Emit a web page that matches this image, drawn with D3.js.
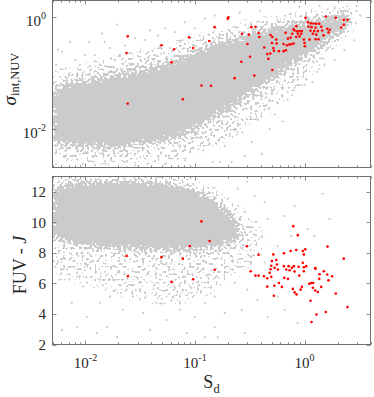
<!DOCTYPE html>
<html>
<head>
<meta charset="utf-8">
<script src="https://cdn.jsdelivr.net/npm/d3@7"></script>
<style>
body { margin: 0; background: #fff; }
text { font-family: "Liberation Serif", "Times New Roman", serif; fill: #262626; }
</style>
</head>
<body>
<div id="chart"></div>
<script>
// ---- data ----
// x samples for the dense part of the grey cloud
var bandX = [0.005, 0.007, 0.01, 0.015, 0.02, 0.03, 0.05, 0.07, 0.1, 0.15, 0.2, 0.3, 0.5, 0.7, 1, 1.5, 2, 2.5];
// top panel: solid core of the cloud (upper / lower sigma)
var topCoreHi = [0.046, 0.061, 0.069, 0.078, 0.089, 0.104, 0.133, 0.163, 0.218, 0.302, 0.355, 0.454, 0.605, 0.684, 0.773, 0.91, 1.03, 1.12];
var topCoreLo = [0.0059, 0.0055, 0.0051, 0.0049, 0.0051, 0.0057, 0.0065, 0.0076, 0.0106, 0.018, 0.024, 0.041, 0.082, 0.139, 0.209, 0.355, 0.535, 0.742];
// top panel: looser halo round the core
var topHaloX = [0.005, 0.007, 0.01, 0.015, 0.02, 0.03, 0.05, 0.07, 0.1, 0.15, 0.2, 0.3, 0.5, 0.7, 1, 1.5, 2, 2.5, 3];
var topHaloHi = [0.104, 0.123, 0.145, 0.17, 0.2, 0.236, 0.302, 0.355, 0.454, 0.58, 0.684, 0.805, 0.988, 1.12, 1.21, 1.37, 1.49, 1.61, 1.61];
var topHaloLo = [0.0029, 0.0026, 0.0024, 0.0023, 0.0023, 0.0024, 0.0026, 0.0029, 0.0035, 0.0047, 0.0065, 0.0106, 0.022, 0.036, 0.075, 0.17, 0.314, 0.535, 0.874];

// bottom panel: solid core
var botCoreX = [0.005, 0.007, 0.01, 0.015, 0.02, 0.03, 0.05, 0.07, 0.1, 0.15, 0.2, 0.25];
var botCoreHi = [12.2, 12.46, 12.6, 12.66, 12.66, 12.66, 12.53, 12.33, 12.0, 11.34, 10.55, 9.88];
var botCoreLo = [9.03, 8.76, 8.56, 8.43, 8.37, 8.30, 8.23, 8.23, 8.23, 8.43, 8.70, 9.03];
// bottom panel: halo
var botHaloX = [0.005, 0.007, 0.01, 0.015, 0.02, 0.03, 0.05, 0.07, 0.1, 0.15, 0.2, 0.3, 0.4];
var botHaloHi = [12.9, 12.95, 12.95, 12.95, 12.95, 12.95, 12.9, 12.86, 12.66, 12.2, 11.54, 10.55, 9.69];
var botHaloLo = [6.58, 6.25, 5.92, 5.59, 5.26, 4.93, 4.6, 4.6, 4.93, 5.59, 6.25, 6.91, 7.44];

// scattered grey points outside the dense cloud [Sd, sigma]
var topGrey = [
  [0.0056, 0.26], [0.0061, 0.24], [0.0072, 0.36], [0.0081, 0.17], [0.0108, 0.36], [0.0122, 0.21],
  [0.0141, 0.51], [0.0167, 0.28], [0.0194, 0.74], [0.0229, 0.31], [0.0284, 0.42], [0.035, 0.39],
  [0.039, 0.58], [0.0458, 0.47], [0.0535, 0.63], [0.0655, 0.54], [0.081, 0.81], [0.0994, 0.63],
  [0.123, 0.95], [0.151, 1.07], [0.256, 1.21], [0.389, 1.31], [0.9, 1.55], [1.37, 1.61],
  [2.98, 1.61], [3.24, 1.07], [2.47, 1.31], [1.88, 1.43],
  [0.0054, 0.14], [0.0066, 0.12], [0.0089, 0.14], [0.0099, 0.21], [0.0136, 0.14], [0.015, 0.36],
  [0.0186, 0.17], [0.0206, 0.21], [0.0255, 0.14], [0.0315, 0.24], [0.0431, 0.21], [0.048, 0.31],
  [0.059, 0.28], [0.0727, 0.36], [0.0894, 0.42], [0.11, 0.47],
  [0.0054, 0.0023], [0.0058, 0.0043], [0.0066, 0.0032], [0.0084, 0.0028], [0.0099, 0.0038],
  [0.0122, 0.0022], [0.015, 0.0026], [0.0186, 0.0032], [0.0229, 0.0025], [0.0284, 0.0022],
  [0.035, 0.0029], [0.0431, 0.0026], [0.0535, 0.0023], [0.0655, 0.0032], [0.081, 0.0027], [0.0894, 0.0038],
  [0.093, 0.0065], [0.106, 0.008], [0.136, 0.0053], [0.145, 0.0025], [0.168, 0.0025], [0.216, 0.0025],
  [0.284, 0.0032], [0.329, 0.0057], [0.2075, 0.0073], [0.245, 0.0086], [0.187, 0.0049], [0.406, 0.0035],
  [0.48, 0.0098], [0.63, 0.0134], [0.373, 0.0146], [0.432, 0.022], [0.70, 0.033], [0.533, 0.018],
  [0.811, 0.054], [1.0, 0.061], [1.18, 0.069], [1.31, 0.104], [1.52, 0.139], [1.88, 0.17],
  [2.31, 0.256], [2.85, 0.385]
];
// [Sd, FUV - J]
var botGrey = [
  [0.0056, 7.44], [0.0068, 6.91], [0.0058, 6.25], [0.0075, 4.73], [0.0061, 2.94], [0.0084, 3.14],
  [0.0103, 3.80], [0.0127, 2.75], [0.0157, 3.14], [0.0194, 2.48], [0.0136, 4.73], [0.0167, 5.13],
  [0.0219, 4.27], [0.0271, 5.13], [0.0335, 4.07], [0.039, 2.94], [0.0446, 4.73], [0.055, 3.60],
  [0.063, 5.13], [0.0727, 4.27], [0.084, 2.75], [0.0315, 6.05], [0.0238, 5.59], [0.0178, 6.25],
  [0.0136, 6.25], [0.0095, 5.79], [0.0084, 6.45], [0.0103, 7.11], [0.048, 6.25], [0.063, 6.05],
  [0.0775, 6.45],
  [0.161, 10.87], [0.199, 11.54], [0.245, 12.2], [0.30, 12.66], [0.35, 11.74], [0.432, 11.34],
  [0.284, 10.68], [0.46, 10.22], [0.657, 10.41], [0.811, 11.07], [1.46, 11.87], [1.69, 10.22],
  [1.065, 9.56], [1.23, 9.09], [0.76, 9.09], [0.406, 9.09], [0.567, 8.43], [0.329, 7.77],
  [0.432, 7.37], [0.245, 7.37], [0.199, 8.03], [0.187, 6.71], [0.23, 6.05], [0.30, 5.59],
  [0.373, 4.93], [0.267, 4.27], [0.187, 4.07], [0.151, 3.14], [0.123, 2.48], [0.161, 2.48],
  [0.284, 2.75], [0.46, 3.80], [0.657, 4.27], [0.864, 3.41], [0.567, 5.13], [0.123, 4.73],
  [0.106, 5.59], [0.0994, 3.80], [0.151, 5.13], [0.131, 6.45], [0.175, 8.23]
];

// red sample [Sd, sigma_int,NUV]
var topRed = [
  [0.0243, 0.454], [0.0237, 0.227], [0.0243, 0.0281], [0.0494, 0.314], [0.0644, 0.267], [0.061, 0.155],
  [0.0774, 0.0336], [0.0883, 0.436], [0.202, 1.0], [0.199, 0.937], [0.151, 0.664], [0.096, 0.281],
  [0.135, 0.375], [0.1145, 0.0595], [0.140, 0.0588], [0.230, 0.0805], [0.265, 0.159], [0.318, 0.195],
  [0.348, 0.0896], [0.508, 0.113], [0.301, 0.331], [0.268, 0.507], [0.311, 0.487], [0.327, 0.664],
  [0.356, 0.675], [0.381, 0.520], [0.387, 0.441], [0.429, 0.286], [0.457, 0.218], [0.467, 0.179],
  [0.487, 0.224], [0.490, 0.479], [0.508, 0.441], [0.504, 0.345], [0.519, 0.281], [0.552, 0.397],
  [0.556, 0.337], [0.525, 0.249], [0.583, 0.246], [0.644, 0.246], [0.676, 0.256], [0.644, 0.331],
  [0.690, 0.314], [0.726, 0.324], [0.757, 0.327], [0.794, 0.337], [0.705, 0.413], [0.671, 0.528],
  [0.773, 0.507], [0.794, 0.612], [0.840, 0.692], [0.811, 0.580], [0.858, 0.557], [0.900, 0.564],
  [0.945, 0.564], [0.869, 0.507], [0.933, 0.507], [0.746, 0.431], [0.840, 0.441], [0.900, 0.454],
  [0.985, 0.397], [1.0, 0.345], [1.006, 0.302], [1.021, 0.976], [1.072, 0.815], [1.141, 0.782],
  [1.208, 0.773], [1.278, 0.764], [1.361, 0.764], [1.087, 0.684], [1.158, 0.664], [1.260, 0.648],
  [1.420, 0.675], [1.134, 0.573], [1.226, 0.564], [1.322, 0.564], [1.449, 0.580], [1.190, 0.507],
  [1.278, 0.487], [1.111, 0.397], [1.260, 0.402], [1.341, 0.402], [1.563, 1.029], [1.928, 0.976],
  [1.610, 0.622], [1.700, 0.597], [1.654, 0.535], [1.490, 0.473], [2.160, 0.656], [2.280, 0.733],
  [2.465, 0.899], [2.280, 0.899]
];
// red sample [Sd, FUV - J]
var botRed = [
  [0.0237, 7.79], [0.0244, 6.47], [0.0494, 7.72], [0.061, 6.10], [0.0774, 7.62], [0.0896, 8.45],
  [0.1145, 10.06], [0.136, 8.78], [0.151, 6.89], [0.0962, 6.27], [0.298, 8.43], [0.381, 7.88],
  [0.322, 6.80], [0.356, 6.51], [0.381, 6.51], [0.426, 6.47], [0.457, 6.34], [0.457, 5.79],
  [0.480, 6.69], [0.519, 7.90], [0.504, 7.46], [0.497, 7.16], [0.490, 6.93], [0.552, 7.53],
  [0.560, 7.24], [0.533, 7.02], [0.571, 6.91], [0.497, 6.43], [0.530, 5.85], [0.525, 5.19],
  [0.583, 6.03], [0.621, 5.77], [0.653, 6.36], [0.648, 7.97], [0.648, 7.13], [0.681, 6.91],
  [0.715, 7.13], [0.746, 8.12], [0.730, 6.86], [0.705, 6.30], [0.766, 7.02], [0.789, 9.75],
  [0.799, 7.13], [0.811, 6.78], [0.840, 8.19], [0.869, 9.16], [0.895, 6.51], [0.882, 7.09],
  [0.782, 5.64], [0.811, 5.41], [0.846, 5.28], [0.920, 5.59], [0.945, 5.77], [0.965, 8.12],
  [0.985, 7.90], [1.015, 8.23], [0.965, 7.35], [0.985, 7.06], [1.036, 7.13], [0.985, 6.80],
  [1.104, 5.97], [1.151, 6.03], [1.200, 6.03], [1.190, 5.72], [1.252, 7.00], [1.252, 5.54],
  [1.134, 4.86], [1.322, 5.44], [1.420, 5.77], [1.370, 6.60], [1.361, 6.30], [1.499, 6.80],
  [1.610, 6.58], [1.654, 6.20], [1.788, 6.47], [1.621, 8.41], [2.280, 7.62], [1.928, 5.34],
  [1.563, 4.13], [1.286, 3.96], [1.158, 3.47], [2.465, 4.45], [1.260, 6.96]
];

var xMajor = [0.01, 0.1, 1];
var topYMajor = [0.01, 1];
var botYTicks = [2, 4, 6, 8, 10, 12];

// ---- layout ----
var svgWidth = 374, svgHeight = 397;
var plotLeft = 52.5, plotRight = 370.5;
var topBox = { y0: 0.5, y1: 167.5 };
var botBox = { y0: 176.5, y1: 344.5 };
var greyCol = "#cbcbcb";
var axisCol = "#707070";

var svg = d3.select("#chart").append("svg")
  .attr("width", svgWidth)
  .attr("height", svgHeight);

var defs = svg.append("defs");

// grainy cloud: blurred band alpha + noise, thresholded, so the edge breaks into dots
var f = defs.append("filter").attr("id", "cloud")
  .attr("filterUnits", "userSpaceOnUse")
  .attr("x", 0).attr("y", 0).attr("width", svgWidth).attr("height", svgHeight)
  .attr("color-interpolation-filters", "sRGB");
f.append("feGaussianBlur").attr("in", "SourceAlpha").attr("stdDeviation", 5).attr("result", "a");
f.append("feTurbulence").attr("type", "fractalNoise").attr("baseFrequency", 0.38)
  .attr("numOctaves", 1).attr("seed", 5).attr("result", "n");
f.append("feColorMatrix").attr("in", "n").attr("type", "matrix")
  .attr("values", "0 0 0 0 0  0 0 0 0 0  0 0 0 0 0  2.6 0 0 0 -0.8").attr("result", "na");
f.append("feComposite").attr("in", "a").attr("in2", "na").attr("operator", "arithmetic")
  .attr("k1", 0).attr("k2", 1.3).attr("k3", 1).attr("k4", -1.05).attr("result", "v");
var ct = f.append("feComponentTransfer").attr("in", "v").attr("result", "t");
ct.append("feFuncA").attr("type", "linear").attr("slope", 10).attr("intercept", 0);
f.append("feFlood").attr("flood-color", greyCol).attr("result", "c");
f.append("feComposite").attr("in", "c").attr("in2", "t").attr("operator", "in");

var x = d3.scaleLog().domain([0.005, 4]).range([plotLeft, plotRight]);
var yTop = d3.scaleLog().domain([0.002, 2]).range([topBox.y1, topBox.y0]);
var yBot = d3.scaleLinear().domain([2, 13]).range([botBox.y1, botBox.y0]);

function panel(id, box, y, haloX, haloHi, haloLo, haloOp, coreX, coreHi, coreLo, grey, red) {
  defs.append("clipPath").attr("id", id)
    .append("rect")
    .attr("x", plotLeft).attr("y", box.y0)
    .attr("width", plotRight - plotLeft).attr("height", box.y1 - box.y0);

  var g = svg.append("g").attr("clip-path", "url(#" + id + ")");

  var bands = g.append("g").attr("filter", "url(#cloud)");
  var halo = d3.area()
    .curve(d3.curveCatmullRom)
    .x((d, i) => x(haloX[i]))
    .y0((d, i) => y(haloLo[i]))
    .y1((d, i) => y(haloHi[i]));
  bands.append("path")
    .attr("d", halo(haloX))
    .attr("fill", "#000")
    .attr("opacity", haloOp);

  var core = d3.area()
    .curve(d3.curveCatmullRom)
    .x((d, i) => x(coreX[i]))
    .y0((d, i) => y(coreLo[i]))
    .y1((d, i) => y(coreHi[i]));
  bands.append("path")
    .attr("d", core(coreX))
    .attr("fill", "#000");

  g.append("g").selectAll("circle")
    .data(grey)
    .enter()
    .append("circle")
    .attr("cx", d => x(d[0]))
    .attr("cy", d => y(d[1]))
    .attr("r", 1.1)
    .attr("fill", greyCol);

  g.append("g").selectAll("circle")
    .data(red)
    .enter()
    .append("circle")
    .attr("cx", d => x(d[0]))
    .attr("cy", d => y(d[1]))
    .attr("r", 1.3)
    .attr("fill", "#ff0000");

  // frame
  svg.append("rect")
    .attr("x", plotLeft).attr("y", box.y0)
    .attr("width", plotRight - plotLeft).attr("height", box.y1 - box.y0)
    .attr("fill", "none")
    .attr("stroke", axisCol);

  // x ticks, inward on bottom and top edges
  var tg = svg.append("g").attr("stroke", axisCol).attr("stroke-width", 0.8);
  x.ticks().forEach(function (t) {
    var major = xMajor.some(m => Math.abs(m - t) < 1e-9);
    var len = major ? 4 : 2.2;
    var px = Math.round(x(t)) + 0.5;
    tg.append("line").attr("x1", px).attr("x2", px).attr("y1", box.y1).attr("y2", box.y1 - len);
    tg.append("line").attr("x1", px).attr("x2", px).attr("y1", box.y0).attr("y2", box.y0 + len);
  });
  return tg;
}

var tgTop = panel("clipTop", topBox, yTop, topHaloX, topHaloHi, topHaloLo, 0.3,
  bandX, topCoreHi, topCoreLo, topGrey, topRed);
var tgBot = panel("clipBot", botBox, yBot, botHaloX, botHaloHi, botHaloLo, 0.26,
  botCoreX, botCoreHi, botCoreLo, botGrey, botRed);

// y ticks
topYMajor.forEach(function (t) {
  var py = Math.round(yTop(t)) + 0.5;
  tgTop.append("line").attr("x1", plotLeft).attr("x2", plotLeft + 4).attr("y1", py).attr("y2", py);
  tgTop.append("line").attr("x1", plotRight).attr("x2", plotRight - 4).attr("y1", py).attr("y2", py);
  var lab = svg.append("text")
    .attr("x", 46).attr("y", yTop(t) + 9)
    .attr("text-anchor", "end")
    .attr("font-size", 15);
  lab.append("tspan").text("10");
  lab.append("tspan").attr("dy", -7).attr("font-size", 10).text(Math.round(Math.log10(t)));
});

botYTicks.forEach(function (t) {
  var py = Math.round(yBot(t)) + 0.5;
  tgBot.append("line").attr("x1", plotLeft).attr("x2", plotLeft + 4).attr("y1", py).attr("y2", py);
  tgBot.append("line").attr("x1", plotRight).attr("x2", plotRight - 4).attr("y1", py).attr("y2", py);
  svg.append("text")
    .attr("x", 46).attr("y", yBot(t) + 5.3)
    .attr("text-anchor", "end")
    .attr("font-size", 15)
    .text(t);
});

// x tick labels (bottom panel only)
xMajor.forEach(function (t) {
  var lab = svg.append("text")
    .attr("x", x(t)).attr("y", 368)
    .attr("text-anchor", "middle")
    .attr("font-size", 15);
  lab.append("tspan").text("10");
  lab.append("tspan").attr("dy", -7).attr("font-size", 10).text(Math.round(Math.log10(t)));
});

// axis titles
var yl1 = svg.append("text")
  .attr("transform", "translate(16, 79) rotate(-90)")
  .attr("text-anchor", "middle");
yl1.append("tspan").attr("font-size", 19).attr("font-style", "italic").text("σ");
yl1.append("tspan").attr("font-size", 12.5).attr("dy", 2.5).text("int,NUV");

svg.append("text")
  .attr("transform", "translate(26, 265) rotate(-90)")
  .attr("text-anchor", "middle")
  .attr("font-size", 18)
  .html('FUV - <tspan font-style="italic">J</tspan>');

var xl = svg.append("text")
  .attr("x", (plotLeft + plotRight) / 2)
  .attr("y", 388)
  .attr("text-anchor", "middle");
xl.append("tspan").attr("font-size", 18).text("S");
xl.append("tspan").attr("font-size", 12.5).attr("dy", 5).text("d");
</script>
</body>
</html>
